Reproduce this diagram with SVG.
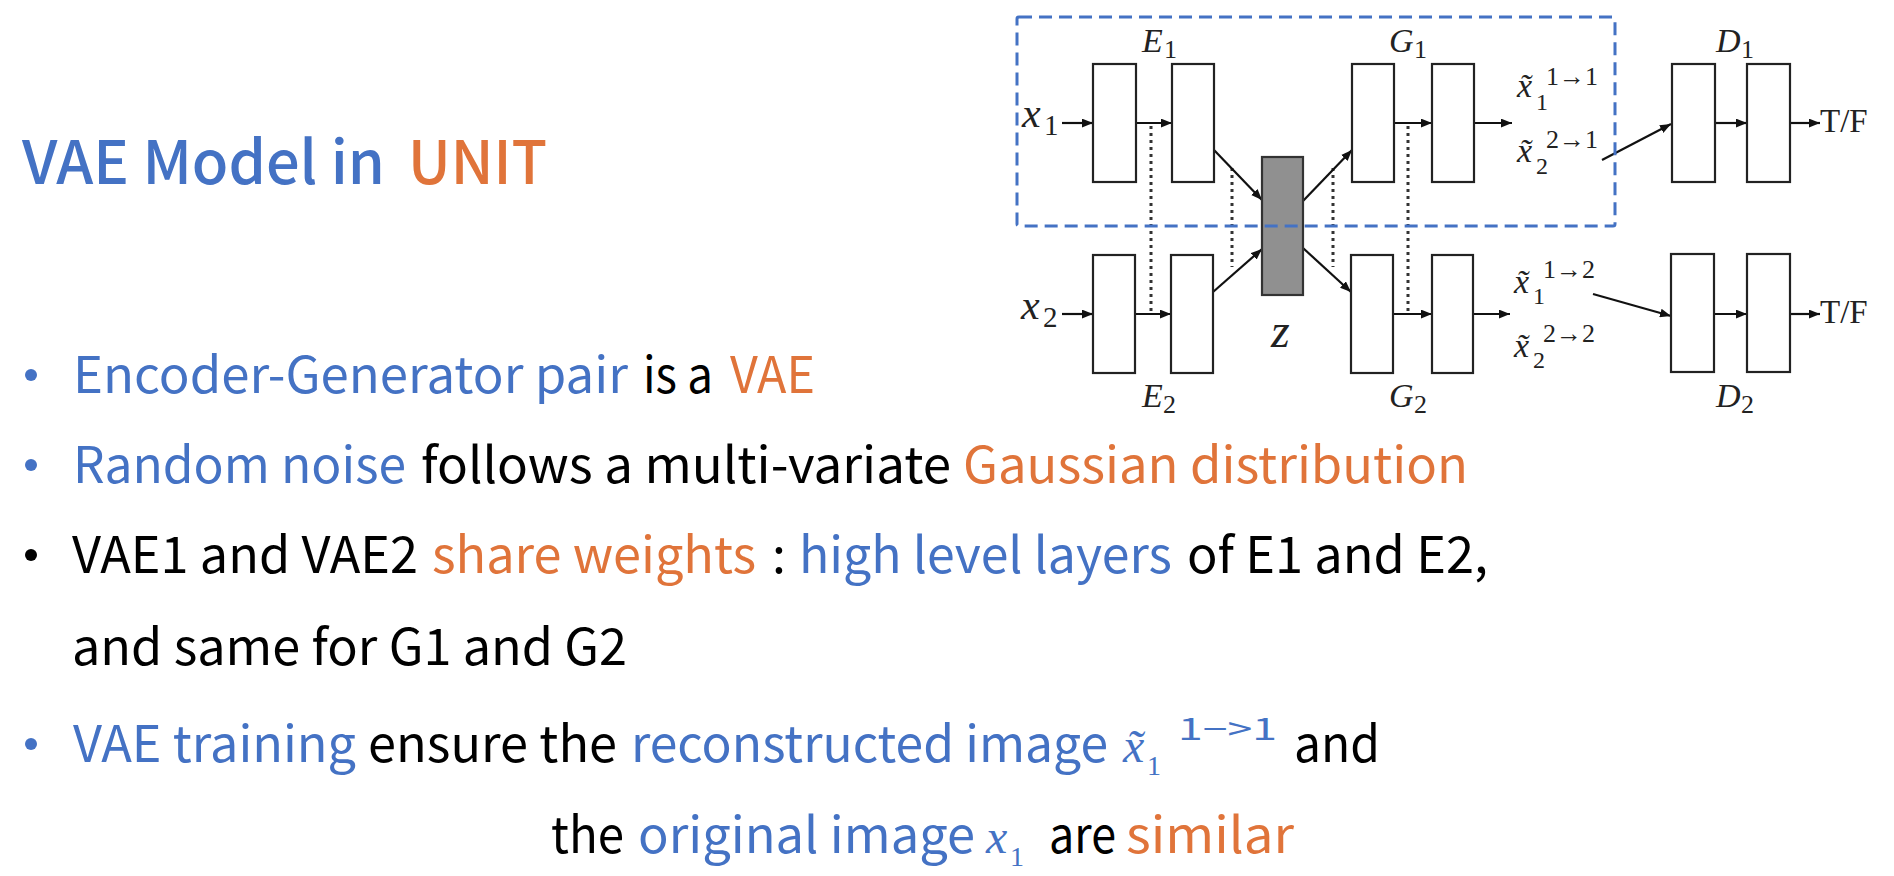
<svg xmlns="http://www.w3.org/2000/svg" width="1894" height="876" viewBox="0 0 1894 876">
<defs>
<style>
.b{font-family:"Noto Sans CJK TC","Noto Sans",sans-serif;font-size:50px;}
.t{font-family:"Noto Sans CJK TC","Noto Sans",sans-serif;font-size:60px;font-weight:500;}
.blue{fill:#4472C4;}
.org{fill:#E0743A;}
.blk{fill:#000;}
.m{font-family:"Liberation Serif","DejaVu Serif",serif;font-style:italic;fill:#222;}
.r{font-family:"Liberation Serif","DejaVu Serif",serif;fill:#222;}
.box{fill:#fff;stroke:#222;stroke-width:2.2;}
.ln{stroke:#111;stroke-width:2.2;fill:none;marker-end:url(#ah);}
.dot{stroke:#333;stroke-width:3;stroke-dasharray:3 4;fill:none;}
</style>
<marker id="ah" viewBox="0 0 10 8" refX="10" refY="4" markerWidth="11" markerHeight="9" markerUnits="userSpaceOnUse" orient="auto"><path d="M0,0 L10,4 L0,8 z" fill="#111"/></marker>
</defs>
<rect width="1894" height="876" fill="#fff"/>

<g id="title">
<text class="t blue" x="22" y="184" textLength="363" lengthAdjust="spacingAndGlyphs">VAE Model in</text>
<text class="t org" x="408" y="184" textLength="139" lengthAdjust="spacingAndGlyphs">UNIT</text>
</g>

<g id="bullets">
<circle cx="31" cy="375" r="6" fill="#4472C4"/>
<text class="b blue" x="73" y="393" textLength="555" lengthAdjust="spacingAndGlyphs">Encoder-Generator pair</text>
<text class="b blk" x="643" y="393" textLength="70" lengthAdjust="spacingAndGlyphs">is a</text>
<text class="b org" x="730" y="393" textLength="85" lengthAdjust="spacingAndGlyphs">VAE</text>

<circle cx="31" cy="465" r="6" fill="#4472C4"/>
<text class="b blue" x="73" y="483" textLength="333" lengthAdjust="spacingAndGlyphs">Random noise</text>
<text class="b blk" x="421" y="483" textLength="530" lengthAdjust="spacingAndGlyphs">follows a multi-variate</text>
<text class="b org" x="963" y="483" textLength="505" lengthAdjust="spacingAndGlyphs">Gaussian distribution</text>

<circle cx="31" cy="555" r="6" fill="#000"/>
<text class="b blk" x="72" y="573" textLength="346" lengthAdjust="spacingAndGlyphs">VAE1 and VAE2</text>
<text class="b org" x="432" y="573" textLength="324" lengthAdjust="spacingAndGlyphs">share weights</text>
<text class="b blk" x="772" y="573">:</text>
<text class="b blue" x="799" y="573" textLength="373" lengthAdjust="spacingAndGlyphs">high level layers</text>
<text class="b blk" x="1187" y="573" textLength="301" lengthAdjust="spacingAndGlyphs">of E1 and E2,</text>
<text class="b blk" x="72" y="665" textLength="555" lengthAdjust="spacingAndGlyphs">and same for G1 and G2</text>

<circle cx="31" cy="744" r="6" fill="#4472C4"/>
<text class="b blue" x="73" y="762" textLength="283" lengthAdjust="spacingAndGlyphs">VAE training</text>
<text class="b blk" x="368" y="762" textLength="249" lengthAdjust="spacingAndGlyphs">ensure the</text>
<text class="b blue" x="631" y="762" textLength="477" lengthAdjust="spacingAndGlyphs">reconstructed image</text>
<text x="1123" y="762" font-family="Liberation Serif,serif" font-style="italic" font-size="48" fill="#4472C4">x̃</text>
<text x="1147" y="775" font-family="Liberation Serif,serif" font-size="28" fill="#4472C4">1</text>
<text x="1178" y="740" font-family="Noto Sans CJK TC,Noto Sans,sans-serif" font-size="30" fill="#4472C4" textLength="99" lengthAdjust="spacingAndGlyphs">1−&gt;1</text>
<text class="b blk" x="1294" y="762" textLength="86" lengthAdjust="spacingAndGlyphs">and</text>

<text class="b blk" x="551" y="853" textLength="73" lengthAdjust="spacingAndGlyphs">the</text>
<text class="b blue" x="638" y="853" textLength="337" lengthAdjust="spacingAndGlyphs">original image</text>
<text x="986" y="853" font-family="Liberation Serif,serif" font-style="italic" font-size="48" fill="#4472C4">x</text>
<text x="1010" y="866" font-family="Liberation Serif,serif" font-size="28" fill="#4472C4">1</text>
<text class="b blk" x="1049" y="853" textLength="67" lengthAdjust="spacingAndGlyphs">are</text>
<text class="b org" x="1126" y="853" textLength="168" lengthAdjust="spacingAndGlyphs">similar</text>
</g>

<g id="connectors">
<line class="dot" x1="1151" y1="126" x2="1151" y2="311"/>
<line class="dot" x1="1232" y1="168" x2="1232" y2="267"/>
<line class="dot" x1="1333" y1="168" x2="1333" y2="267"/>
<line class="dot" x1="1408" y1="126" x2="1408" y2="311"/>

<line class="ln" x1="1062" y1="123" x2="1093" y2="123"/>
<line class="ln" x1="1136" y1="123" x2="1172" y2="123"/>
<line class="ln" x1="1214" y1="150" x2="1262" y2="200"/>
<line class="ln" x1="1303" y1="201" x2="1352" y2="150"/>
<line class="ln" x1="1394" y1="123" x2="1432" y2="123"/>
<line class="ln" x1="1474" y1="123" x2="1512" y2="123"/>
<line class="ln" x1="1602" y1="160" x2="1671" y2="124"/>
<line class="ln" x1="1715" y1="123" x2="1747" y2="123"/>
<line class="ln" x1="1790" y1="123" x2="1820" y2="123"/>

<line class="ln" x1="1062" y1="314" x2="1093" y2="314"/>
<line class="ln" x1="1135" y1="314" x2="1171" y2="314"/>
<line class="ln" x1="1213" y1="292" x2="1262" y2="249"/>
<line class="ln" x1="1303" y1="248" x2="1351" y2="292"/>
<line class="ln" x1="1393" y1="314" x2="1432" y2="314"/>
<line class="ln" x1="1473" y1="314" x2="1510" y2="314"/>
<line class="ln" x1="1593" y1="294" x2="1671" y2="316"/>
<line class="ln" x1="1714" y1="314" x2="1747" y2="314"/>
<line class="ln" x1="1790" y1="314" x2="1820" y2="314"/>
</g>

<g id="E1">
<rect class="box" x="1093" y="64" width="43" height="118"/>
<rect class="box" x="1172" y="64" width="42" height="118"/>
<text class="m" x="1142" y="52" font-size="34">E</text><text class="r" x="1164" y="58" font-size="26">1</text>
</g>
<g id="E2">
<rect class="box" x="1093" y="255" width="42" height="118"/>
<rect class="box" x="1171" y="255" width="42" height="118"/>
<text class="m" x="1142" y="407" font-size="34">E</text><text class="r" x="1163" y="413" font-size="26">2</text>
</g>
<g id="z">
<rect x="1262" y="157" width="41" height="138" fill="#909090" stroke="#333" stroke-width="2.2"/>
<text class="m" x="1271" y="347" font-size="48">z</text>
</g>
<g id="G1">
<rect class="box" x="1352" y="64" width="42" height="118"/>
<rect class="box" x="1432" y="64" width="42" height="118"/>
<text class="m" x="1389" y="52" font-size="34">G</text><text class="r" x="1414" y="58" font-size="26">1</text>
</g>
<g id="G2">
<rect class="box" x="1351" y="255" width="42" height="118"/>
<rect class="box" x="1432" y="255" width="41" height="118"/>
<text class="m" x="1389" y="407" font-size="34">G</text><text class="r" x="1414" y="413" font-size="26">2</text>
</g>
<g id="D1">
<rect class="box" x="1672" y="64" width="43" height="118"/>
<rect class="box" x="1747" y="64" width="43" height="118"/>
<text class="m" x="1716" y="52" font-size="34">D</text><text class="r" x="1741" y="58" font-size="26">1</text>
<text class="r" x="1820" y="132" font-size="33">T/F</text>
</g>
<g id="D2">
<rect class="box" x="1671" y="254" width="43" height="118"/>
<rect class="box" x="1747" y="254" width="43" height="118"/>
<text class="m" x="1716" y="407" font-size="34">D</text><text class="r" x="1741" y="413" font-size="26">2</text>
<text class="r" x="1820" y="323" font-size="33">T/F</text>
</g>
<g id="x1">
<text class="m" x="1022" y="127" font-size="42">x</text><text class="r" x="1044" y="135" font-size="29">1</text>
</g>
<g id="x2">
<text class="m" x="1021" y="319" font-size="42">x</text><text class="r" x="1043" y="327" font-size="29">2</text>
</g>
<g id="outputs">
<text class="m" x="1517" y="97" font-size="34">x̃</text><text class="r" x="1536" y="110" font-size="24">1</text><text class="r" x="1546" y="85" font-size="26">1→1</text>
<text class="m" x="1517" y="162" font-size="34">x̃</text><text class="r" x="1536" y="174" font-size="24">2</text><text class="r" x="1546" y="148" font-size="26">2→1</text>
<text class="m" x="1514" y="293" font-size="34">x̃</text><text class="r" x="1533" y="304" font-size="24">1</text><text class="r" x="1543" y="278" font-size="26">1→2</text>
<text class="m" x="1514" y="357" font-size="34">x̃</text><text class="r" x="1533" y="368" font-size="24">2</text><text class="r" x="1543" y="342" font-size="26">2→2</text>
</g>
<g id="group-box">
<rect x="1017" y="17" width="598" height="209" rx="2" fill="none" stroke="#4472C4" stroke-width="3" stroke-dasharray="13 7"/>
</g>
</svg>
